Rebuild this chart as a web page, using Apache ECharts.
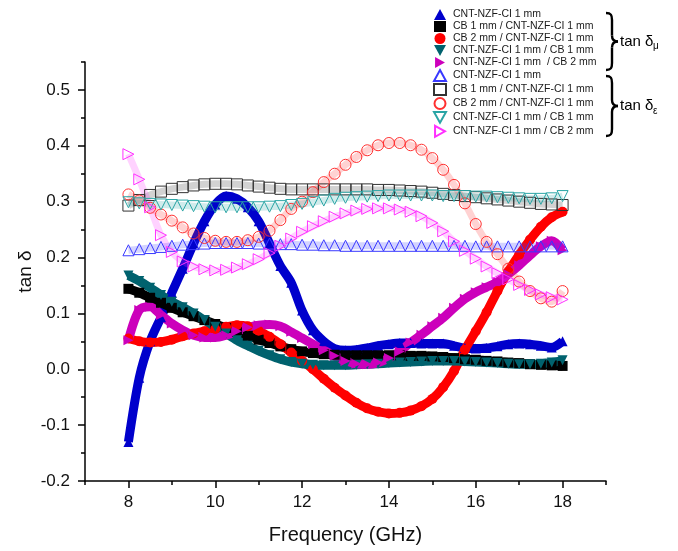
<!DOCTYPE html>
<html><head><meta charset="utf-8">
<script src="https://cdn.jsdelivr.net/npm/echarts@6/dist/echarts.min.js"></script>
<style>html,body{margin:0;padding:0;background:#fff}#c{width:678px;height:551px}</style>
</head><body><div id="c"></div><script>
// ---- data ----
const freq = [8, 8.25, 8.5, 8.75, 9, 9.25, 9.5, 9.75, 10, 10.25, 10.5, 10.75, 11, 11.25, 11.5, 11.75, 12, 12.25, 12.5, 12.75, 13, 13.25, 13.5, 13.75, 14, 14.25, 14.5, 14.75, 15, 15.25, 15.5, 15.75, 16, 16.25, 16.5, 16.75, 17, 17.25, 17.5, 17.75, 18];

// tan δμ (filled symbols)
const muCNT = [-0.13, -0.015, 0.05, 0.093, 0.137, 0.18, 0.225, 0.265, 0.295, 0.31, 0.305, 0.29, 0.265, 0.225, 0.185, 0.155, 0.105, 0.07, 0.05, 0.037, 0.034, 0.035, 0.038, 0.042, 0.045, 0.047, 0.047, 0.046, 0.046, 0.046, 0.042, 0.038, 0.037, 0.038, 0.041, 0.045, 0.046, 0.045, 0.042, 0.039, 0.05];
const muCB1CNT = [0.144, 0.137, 0.128, 0.119, 0.11, 0.102, 0.095, 0.088, 0.081, 0.074, 0.067, 0.06, 0.053, 0.047, 0.041, 0.036, 0.032, 0.029, 0.027, 0.026, 0.025, 0.025, 0.025, 0.025, 0.025, 0.025, 0.024, 0.024, 0.023, 0.022, 0.02, 0.018, 0.017, 0.015, 0.014, 0.012, 0.011, 0.009, 0.008, 0.007, 0.006];
const muCB2CNT = [0.055, 0.05, 0.048, 0.049, 0.053, 0.059, 0.064, 0.068, 0.072, 0.076, 0.079, 0.077, 0.069, 0.058, 0.045, 0.03, 0.015, 0.0, -0.017, -0.033, -0.047, -0.06, -0.07, -0.076, -0.079, -0.078, -0.074, -0.066, -0.053, -0.032, -0.003, 0.035, 0.068, 0.102, 0.14, 0.175, 0.205, 0.232, 0.255, 0.272, 0.282];
const muCNTCB1 = [0.168, 0.158, 0.146, 0.133, 0.121, 0.111, 0.1, 0.088, 0.076, 0.064, 0.052, 0.042, 0.033, 0.025, 0.018, 0.013, 0.01, 0.008, 0.007, 0.007, 0.007, 0.008, 0.009, 0.01, 0.011, 0.012, 0.013, 0.014, 0.015, 0.015, 0.015, 0.014, 0.013, 0.012, 0.011, 0.01, 0.009, 0.009, 0.01, 0.012, 0.016];
const muCNTCB2 = [0.052, 0.106, 0.112, 0.097, 0.082, 0.07, 0.061, 0.057, 0.057, 0.061, 0.068, 0.075, 0.079, 0.08, 0.077, 0.067, 0.056, 0.045, 0.034, 0.024, 0.015, 0.01, 0.009, 0.012, 0.02, 0.032, 0.048, 0.062, 0.077, 0.092, 0.11, 0.126, 0.138, 0.147, 0.156, 0.17, 0.186, 0.204, 0.22, 0.23, 0.213];

// tan δε (hollow symbols)
const epsCNT = [0.213, 0.215, 0.217, 0.219, 0.221, 0.223, 0.224, 0.225, 0.226, 0.226, 0.226, 0.226, 0.225, 0.225, 0.224, 0.224, 0.223, 0.223, 0.222, 0.222, 0.221, 0.221, 0.221, 0.221, 0.221, 0.221, 0.221, 0.221, 0.221, 0.221, 0.221, 0.221, 0.22, 0.22, 0.22, 0.22, 0.22, 0.22, 0.22, 0.22, 0.22];
const epsCB1CNT = [0.293, 0.303, 0.312, 0.318, 0.323, 0.326, 0.329, 0.331, 0.332, 0.332, 0.331, 0.329, 0.327, 0.325, 0.323, 0.322, 0.322, 0.322, 0.322, 0.322, 0.322, 0.322, 0.322, 0.321, 0.321, 0.32, 0.319, 0.318, 0.316, 0.314, 0.312, 0.31, 0.308, 0.306, 0.304, 0.302, 0.3, 0.298, 0.296, 0.295, 0.294];
const epsCB2CNT = [0.313, 0.302, 0.289, 0.277, 0.266, 0.254, 0.243, 0.235, 0.23, 0.228, 0.228, 0.231, 0.237, 0.248, 0.267, 0.287, 0.3, 0.317, 0.335, 0.35, 0.366, 0.38, 0.392, 0.401, 0.405, 0.405, 0.401, 0.393, 0.378, 0.357, 0.33, 0.297, 0.26, 0.228, 0.206, 0.18, 0.157, 0.14, 0.127, 0.121, 0.14];
const epsCNTCB1 = [0.299, 0.297, 0.296, 0.295, 0.294, 0.293, 0.292, 0.291, 0.29, 0.29, 0.29, 0.29, 0.29, 0.291, 0.292, 0.294, 0.296, 0.299, 0.302, 0.305, 0.307, 0.308, 0.309, 0.31, 0.311, 0.311, 0.311, 0.311, 0.311, 0.31, 0.31, 0.31, 0.309, 0.309, 0.308, 0.307, 0.306, 0.305, 0.305, 0.306, 0.31];
const epsCNTCB2 = [0.385, 0.34, 0.29, 0.24, 0.21, 0.193, 0.184, 0.179, 0.177, 0.178, 0.182, 0.188, 0.197, 0.208, 0.221, 0.234, 0.246, 0.256, 0.265, 0.273, 0.279, 0.284, 0.287, 0.288, 0.288, 0.286, 0.282, 0.274, 0.262, 0.247, 0.229, 0.212, 0.198, 0.184, 0.172, 0.161, 0.151, 0.142, 0.134, 0.129, 0.125];

// legend labels
const muLabels = ['CNT-NZF-CI 1 mm', 'CB 1 mm / CNT-NZF-CI 1 mm', 'CB 2 mm / CNT-NZF-CI 1 mm', 'CNT-NZF-CI 1 mm / CB 1 mm', 'CNT-NZF-CI 1 mm  / CB 2 mm'];
const epsLabels = ['CNT-NZF-CI 1 mm', 'CB 1 mm / CNT-NZF-CI 1 mm', 'CB 2 mm / CNT-NZF-CI 1 mm', 'CNT-NZF-CI 1 mm / CB 1 mm', 'CNT-NZF-CI 1 mm / CB 2 mm'];

// axis ticks
const xMajorTicks = [8, 10, 12, 14, 16, 18];
const xMinorTicks = [7, 9, 11, 13, 15, 17, 19];
const yMajorTicks = [-0.2, -0.1, 0, 0.1, 0.2, 0.3, 0.4, 0.5];
const yMinorTicks = [-0.15, -0.05, 0.05, 0.15, 0.25, 0.35, 0.45, 0.55];

// ---- chart ----
const FONT = '"Liberation Sans", Arial, Helvetica, sans-serif';
const muData = [muCNT, muCB1CNT, muCB2CNT, muCNTCB1, muCNTCB2];
const epsData = [epsCNT, epsCB1CNT, epsCB2CNT, epsCNTCB1, epsCNTCB2];
const muColors = ['#0000CC', '#000000', '#FF0000', '#00626E', '#CC00BB'];
const epsColors = ['#3838FF', '#333333', '#FF3030', '#2AA5A5', '#FF30FF'];
const symbols = ['triangle', 'rect', 'circle', 'triangle', 'triangle'];
const rotations = [0, 0, 0, 180, -90];
// legend icons (down / right triangles drawn as paths)
const legendIcons = ['triangle', 'rect', 'circle', 'path://M0,0 L10,0 L5,9 Z', 'path://M0,0 L9,5 L0,10 Z'];

function pairs(ys) { return freq.map((f, i) => [f, ys[i]]); }

const series = [];
const legendData = [];
muData.forEach((d, i) => {
  const name = 'mu' + i + '|' + muLabels[i];
  series.push({
    type: 'line', name, data: pairs(d), smooth: 0.3,
    symbol: symbols[i], symbolRotate: rotations[i], symbolSize: 10, showAllSymbol: true,
    lineStyle: { color: muColors[i], width: 9 },
    itemStyle: { color: muColors[i] },
    emphasis: { disabled: true }, animation: false
  });
  legendData.push({ name, icon: legendIcons[i] });
});
epsData.forEach((d, i) => {
  const name = 'eps' + i + '|' + epsLabels[i];
  series.push({
    type: 'line', name, data: pairs(d), smooth: 0.3,
    symbol: symbols[i], symbolRotate: rotations[i], symbolSize: 11, showAllSymbol: true,
    lineStyle: { color: epsColors[i], width: 7, opacity: 0.22 },
    itemStyle: { color: 'rgba(255,255,255,0)', borderColor: epsColors[i], borderWidth: 1 },
    emphasis: { disabled: true }, animation: false
  });
  legendData.push({ name, icon: legendIcons[i] });
});

function brace(x, yTop, yBot) {
  const yMid = (yTop + yBot) / 2;
  const xv = x + 6, xt = x + 12;
  const st = { stroke: '#000', lineWidth: 2.4, fill: null };
  return [
    { type: 'bezierCurve', shape: { x1: x, y1: yTop, cpx1: x + 5, cpy1: yTop, cpx2: xv, cpy2: yTop + 2, x2: xv, y2: yTop + 7 }, style: st },
    { type: 'line', shape: { x1: xv, y1: yTop + 7, x2: xv, y2: yMid - 6 }, style: st },
    { type: 'bezierCurve', shape: { x1: xv, y1: yMid - 6, cpx1: xv, cpy1: yMid - 1, cpx2: xv + 3, cpy2: yMid, x2: xt, y2: yMid }, style: st },
    { type: 'bezierCurve', shape: { x1: xt, y1: yMid, cpx1: xv + 3, cpy1: yMid, cpx2: xv, cpy2: yMid + 1, x2: xv, y2: yMid + 6 }, style: st },
    { type: 'line', shape: { x1: xv, y1: yMid + 6, x2: xv, y2: yBot - 7 }, style: st },
    { type: 'bezierCurve', shape: { x1: xv, y1: yBot - 7, cpx1: xv, cpy1: yBot - 2, cpx2: x + 5, cpy2: yBot, x2: x, y2: yBot }, style: st }
  ];
}
function tanLabel(x, y, sub) {
  return [
    { type: 'text', x: x, y: y, style: { text: 'tan δ', font: '15px ' + FONT, fill: '#000', textVerticalAlign: 'middle' } },
    { type: 'text', x: x + 33, y: y + 5, style: { text: sub, font: '10px ' + FONT, fill: '#000', textVerticalAlign: 'middle' } }
  ];
}

const option = {
  backgroundColor: '#fff',
  animation: false,
  grid: { left: 85, right: 72, top: 62, bottom: 70, containLabel: false },
  xAxis: [{
    type: 'value', min: 7, max: 19, position: 'bottom',
    name: 'Frequency (GHz)', nameLocation: 'middle', nameGap: 44, nameMoveOverlap: false,
    nameTextStyle: { fontSize: 20, color: '#111', fontFamily: FONT },
    axisLine: { show: true, onZero: false, lineStyle: { color: '#000', width: 1.5 } },
    axisTick: { show: true, inside: false, length: 7, customValues: xMajorTicks, lineStyle: { color: '#000', width: 1.5 } },
    axisLabel: { show: true, margin: 13, customValues: xMajorTicks, fontSize: 17, color: '#111', fontFamily: FONT },
    splitLine: { show: false }
  }, {
    type: 'value', min: 7, max: 19, position: 'bottom',
    axisLine: { show: false, onZero: false },
    axisTick: { show: true, inside: false, length: 4, customValues: xMinorTicks, lineStyle: { color: '#000', width: 1.5 } },
    axisLabel: { show: false }, splitLine: { show: false }
  }],
  yAxis: [{
    type: 'value', min: -0.2, max: 0.55, position: 'left',
    name: 'tan δ', nameLocation: 'middle', nameGap: 50, nameRotate: 90, nameMoveOverlap: false,
    nameTextStyle: { fontSize: 19, color: '#111', fontFamily: FONT },
    axisLine: { show: true, onZero: false, lineStyle: { color: '#000', width: 1.5 } },
    axisTick: { show: true, inside: false, length: 7, customValues: yMajorTicks, lineStyle: { color: '#000', width: 1.5 } },
    axisLabel: { show: true, margin: 15, customValues: yMajorTicks, fontSize: 17, color: '#111', fontFamily: FONT,
      formatter: v => Number(v).toFixed(1) },
    splitLine: { show: false }
  }, {
    type: 'value', min: -0.2, max: 0.55, position: 'left',
    axisLine: { show: false, onZero: false },
    axisTick: { show: true, inside: false, length: 4, customValues: yMinorTicks, lineStyle: { color: '#000', width: 1.5 } },
    axisLabel: { show: false }, splitLine: { show: false }
  }],
  legend: {
    orient: 'vertical', left: 428, top: 4, itemGap: 1, itemWidth: 12, itemHeight: 11,
    selectedMode: false,
    formatter: n => n.split('|')[1],
    textStyle: { fontSize: 10.5, lineHeight: 11, color: '#1a1a1a', fontFamily: FONT, padding: [0, 0, 0, 2] },
    data: legendData
  },
  graphic: [].concat(
    brace(606, 13, 70), tanLabel(620, 41.5, 'μ'),
    brace(606, 76, 136), tanLabel(620, 106, 'ε')
  ),
  series: series
};

const chart = echarts.init(document.getElementById('c'), null, { renderer: 'canvas' });
chart.setOption(option);
</script></body></html>
